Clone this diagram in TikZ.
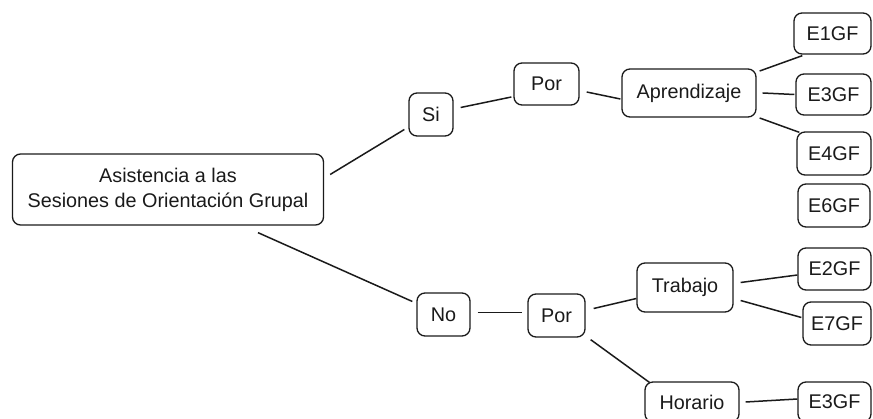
\documentclass[tikz,border=0pt]{standalone}
\usepackage{fontspec}
\setmainfont{Liberation Sans}
\usetikzlibrary{calc}
\definecolor{ink}{HTML}{1A1A1A}
\tikzset{
  box/.style={draw=ink, line width=1.3pt, rounded corners=8pt, inner sep=0pt, text=ink,
    font=\fontsize{19.8}{25}\selectfont, align=center},
  link/.style={draw=ink, line width=1.5pt}
}
\begin{document}
\begin{tikzpicture}[x=1pt, y=-1pt]
\useasboundingbox (0,0) rectangle (873,419);
\node[box, minimum width=311pt, minimum height=71pt] (root) at (168,189.5) {Asistencia a las\\Sesiones de Orientación Grupal};
\node[box, minimum width=44pt, minimum height=43pt] (si) at (431,114.5) {Si};
\node[box, minimum width=65pt, minimum height=42pt] (por1) at (546.5,84) {Por};
\node[box, minimum width=134pt, minimum height=48pt] (apr) at (689,93) {Aprendizaje};
\node[box, minimum width=77pt, minimum height=41pt] (e1) at (832.5,33.5) {E1GF};
\node[box, minimum width=75pt, minimum height=41pt] (e3) at (833.5,94.5) {E3GF};
\node[box, minimum width=74pt, minimum height=43pt] (e4) at (834,153.5) {E4GF};
\node[box, minimum width=72pt, minimum height=43pt] (e6) at (834,205.5) {E6GF};
\node[box, minimum width=53pt, minimum height=43pt] (no) at (443.5,314.5) {No};
\node[box, minimum width=57pt, minimum height=43pt] (por2) at (556.5,315.5) {Por};
\node[box, minimum width=96pt, minimum height=49pt] (trab) at (685,287.5) {Trabajo};
\node[box, minimum width=73pt, minimum height=42pt] (e2) at (834.5,269) {E2GF};
\node[box, minimum width=68pt, minimum height=43pt] (e7) at (837,323.5) {E7GF};
\node[box, minimum width=94pt, minimum height=40pt] (hor) at (692,402) {Horario};
\node[box, minimum width=73pt, minimum height=40pt] (e3b) at (834.5,402) {E3GF};

\draw[link] ($(root.east)+(6,-15)$) -- ($(si.west)+(-4,15)$);
\draw[link] ($(root.south)+(90,7)$) -- ($(no.west)+(-4,-13)$);
\draw[link] ($(si.east)+(7,-7)$) -- ($(por1.west)+(-2,13)$);
\draw[link] ($(por1.east)+(7,8)$) -- ($(apr.west)+(-1,6)$);
\draw[link] ($(apr.east)+(3,-22)$) -- ($(e1.south west)+(9,1)$);
\draw[link] ($(apr.east)+(6,0)$) -- ($(e3.west)+(-1,0)$);
\draw[link] ($(apr.east)+(3,25)$) -- ($(e4.north west)+(3,1)$);
\draw[link] ($(no.east)+(7,-2)$) -- ($(por2.west)+(-5,-3)$);
\draw[link] ($(por2.east)+(8,-7)$) -- ($(trab.west)+(0,11)$);
\draw[link] ($(por2.south east)+(5,2)$) -- ($(hor.north west)+(5,1)$);
\draw[link] ($(trab.east)+(7,-5)$) -- ($(e2.west)+(0,6)$);
\draw[link] ($(trab.east)+(7,13)$) -- ($(e7.west)+(-1,-6)$);
\draw[link] ($(hor.east)+(6,0)$) -- ($(e3b.west)+(0,-3)$);
\end{tikzpicture}
\end{document}
